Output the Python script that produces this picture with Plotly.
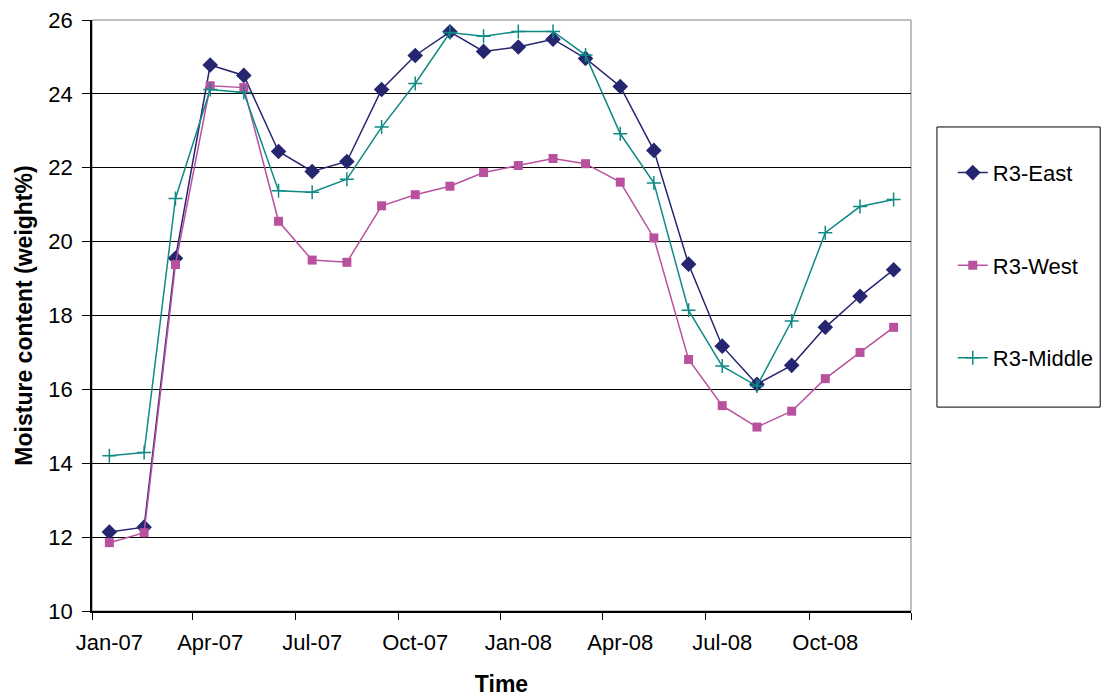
import plotly.graph_objects as go

months = [
    "2007-01-01", "2007-02-01", "2007-03-01", "2007-04-01", "2007-05-01", "2007-06-01",
    "2007-07-01", "2007-08-01", "2007-09-01", "2007-10-01", "2007-11-01", "2007-12-01",
    "2008-01-01", "2008-02-01", "2008-03-01", "2008-04-01", "2008-05-01", "2008-06-01",
    "2008-07-01", "2008-08-01", "2008-09-01", "2008-10-01", "2008-11-01", "2008-12-01",
]
east = [12.14, 12.27, 19.55, 24.78, 24.5, 22.44, 21.9, 22.17, 24.12, 25.04, 25.68, 25.15,
        25.27, 25.48, 24.96, 24.2, 22.47, 19.39, 17.17, 16.14, 16.65, 17.68, 18.52, 19.24]
west = [11.85, 12.12, 19.38, 24.22, 24.17, 20.55, 19.5, 19.44, 20.97, 21.27, 21.5, 21.87,
        22.06, 22.25, 22.11, 21.61, 20.1, 16.81, 15.56, 14.98, 15.41, 16.29, 17.0, 17.68]
middle = [14.2, 14.29, 21.17, 24.12, 24.04, 21.38, 21.34, 21.69, 23.1, 24.28, 25.66, 25.56,
          25.69, 25.69, 25.05, 22.92, 21.59, 18.14, 16.63, 16.09, 17.85, 20.24, 20.95, 21.14]
tick_months = ["2007-01-01", "2007-04-01", "2007-07-01", "2007-10-01",
               "2008-01-01", "2008-04-01", "2008-07-01", "2008-10-01"]

FONT = "Liberation Sans, Arial, sans-serif"

fig = go.Figure()
fig.add_trace(go.Scatter(x=months, y=east, name="R3-East", mode="lines+markers", legendgroup="a",
                         line=dict(color="#26256f", width=1.5),
                         marker=dict(symbol="diamond", size=12, color="#26256f")))
fig.add_trace(go.Scatter(x=months, y=west, name="R3-West", mode="lines+markers", legendgroup="b",
                         line=dict(color="#b8529f", width=1.5),
                         marker=dict(symbol="square", size=9, color="#b8529f")))
fig.add_trace(go.Scatter(x=months, y=middle, name="R3-Middle", mode="lines+markers", legendgroup="c",
                         line=dict(color="#0f8a85", width=1.5),
                         marker=dict(symbol="cross-thin-open", size=10, color="#0f8a85",
                                     line=dict(color="#0f8a85", width=1.5))))

# plot area border (grey) and legend box
fig.add_shape(type="rect", xref="paper", yref="paper", x0=0, x1=1, y0=0, y1=1,
              line=dict(color="#808080", width=1), layer="below")
fig.add_shape(type="rect", xref="paper", yref="paper", x0=1.0317, x1=1.231, y0=0.345, y1=0.819,
              line=dict(color="black", width=1))

fig.update_layout(
    width=1103, height=697,
    margin=dict(l=92, r=192, t=20, b=86, autoexpand=False),
    paper_bgcolor="white", plot_bgcolor="white",
    font=dict(family=FONT, size=22, color="black"),
    legend=dict(x=1.051, xanchor="left", y=0.777, yanchor="top", tracegroupgap=61,
                bgcolor="rgba(0,0,0,0)", borderwidth=0, font=dict(size=22)),
    xaxis=dict(
        range=["2006-12-16 12:00", "2008-12-16 12:00"],
        tickvals=tick_months, tickformat="%b-%y",
        ticks="outside", ticklen=8, tickcolor="rgba(0,0,0,0)",
        ticklabelstandoff=3, automargin=False,
        minor=dict(ticks="outside", ticklen=7, tickcolor="black", tick0="2006-12-16 12:00",
                   dtick="M3", showgrid=False),
        showgrid=False, showline=True, linecolor="black", linewidth=1.5,
        title=dict(text="<b>Time</b>", font=dict(size=23), standoff=22),
    ),
    yaxis=dict(
        range=[10, 26], dtick=2, tick0=10,
        ticks="outside", ticklen=8, tickcolor="black",
        ticklabelstandoff=5, automargin=False,
        showgrid=True, gridcolor="black", gridwidth=1,
        showline=True, linecolor="black", linewidth=1.5,
        title=dict(text="<b>Moisture content (weight%)</b>", font=dict(size=23), standoff=9),
    ),
)

fig.write_html("out.html", config={"displayModeBar": False},
               post_script="document.body.style.margin = '0';")
